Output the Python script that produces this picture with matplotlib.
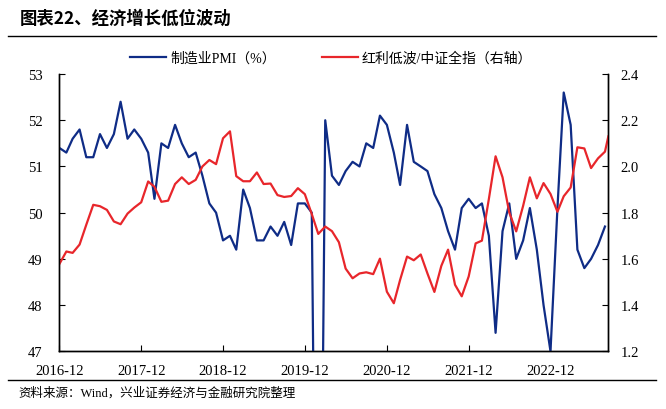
import numpy as np
import pandas as pd
import matplotlib
matplotlib.use("Agg")
import matplotlib.pyplot as plt
import matplotlib.dates as mdates
from matplotlib.lines import Line2D

# 制造业PMI, 2016-12 .. 2023-08 (monthly)
pmi_dates = pd.date_range("2016-12-31", "2023-08-31", freq="ME")
pmi = [51.4,
       51.3, 51.6, 51.8, 51.2, 51.2, 51.7, 51.4, 51.7, 52.4, 51.6, 51.8, 51.6,
       51.3, 50.3, 51.5, 51.4, 51.9, 51.5, 51.2, 51.3, 50.8, 50.2, 50.0, 49.4,
       49.5, 49.2, 50.5, 50.1, 49.4, 49.4, 49.7, 49.5, 49.8, 49.3, 50.2, 50.2,
       50.0, 35.7, 52.0, 50.8, 50.6, 50.9, 51.1, 51.0, 51.5, 51.4, 52.1, 51.9,
       51.3, 50.6, 51.9, 51.1, 51.0, 50.9, 50.4, 50.1, 49.6, 49.2, 50.1, 50.3,
       50.1, 50.2, 49.5, 47.4, 49.6, 50.2, 49.0, 49.4, 50.1, 49.2, 48.0, 47.0,
       50.1, 52.6, 51.9, 49.2, 48.8, 49.0, 49.3, 49.7]

# 红利低波/中证全指, monthly plus the latest (mid-month) reading
ratio_dates = list(pmi_dates) + [pd.Timestamp("2023-09-15")]
ratio = [1.578, 1.632, 1.626, 1.662, 1.748, 1.834, 1.828, 1.812, 1.762, 1.750,
         1.796, 1.822, 1.845, 1.935, 1.912, 1.847, 1.852, 1.924, 1.953, 1.924,
         1.942, 2.000, 2.028, 2.010, 2.122, 2.152, 1.958, 1.936, 1.936, 1.974,
         1.924, 1.926, 1.876, 1.868, 1.872, 1.906, 1.880, 1.794, 1.708, 1.740,
         1.720, 1.672, 1.558, 1.516, 1.537, 1.542, 1.534, 1.601, 1.458, 1.408,
         1.509, 1.610, 1.594, 1.619, 1.537, 1.457, 1.570, 1.640, 1.488, 1.438,
         1.524, 1.667, 1.679, 1.859, 2.044, 1.953, 1.801, 1.719, 1.830, 1.953,
         1.862, 1.928, 1.881, 1.804, 1.871, 1.909, 2.083, 2.078, 1.993, 2.035,
         2.064, 2.130]

tick_years = [2016, 2017, 2018, 2019, 2020, 2021, 2022]

title = "图表22、经济增长低位波动"
pmi_label = "制造业PMI（%）"
ratio_label = "红利低波/中证全指（右轴）"
source = "资料来源：Wind，兴业证券经济与金融研究院整理"

serif_cjk = ["Liberation Serif", "Noto Sans CJK SC"]
blue = "#0F2C86"
red = "#E8262B"

fig = plt.figure(figsize=(6.66, 4.10), dpi=100, facecolor="white")
ax = fig.add_axes([0.0892, 0.1407, 0.8242, 0.6763])
ax2 = ax.twinx()

ax.plot(pmi_dates, pmi, color=blue, lw=1.6, zorder=3)
ax2.plot(ratio_dates, ratio, color=red, lw=1.6, zorder=2)

ax.set_xlim(pmi_dates[0], ratio_dates[-1])
ax.set_ylim(47, 53)
ax.set_yticks(range(47, 54))
ax2.set_ylim(1.2, 2.4)
ax2.set_yticks(np.arange(1.2, 2.41, 0.2))
ax2.yaxis.set_major_formatter(matplotlib.ticker.FormatStrFormatter("%.1f"))

ax.set_xticks([pd.Timestamp(f"{y}-12-31") for y in tick_years])
ax.xaxis.set_major_formatter(mdates.DateFormatter("%Y-%m"))

for a in (ax, ax2):
    a.spines["top"].set_visible(False)
    for s in a.spines.values():
        s.set_linewidth(1.0)
ax.tick_params(axis="both", direction="in", length=4, width=0.8, labelsize=10.5)
ax.tick_params(axis="y", pad=12)
ax.tick_params(axis="x", pad=9)
ax2.tick_params(axis="y", direction="in", length=4, width=0.8, labelsize=10.5, pad=9)
for lbl in ax.get_xticklabels() + ax.get_yticklabels() + ax2.get_yticklabels():
    lbl.set_family("Liberation Serif")

# legend
handles = [Line2D([], [], color=blue, lw=1.6), Line2D([], [], color=red, lw=1.6)]
fig.legend(handles, [pmi_label, ratio_label], loc="center",
           bbox_to_anchor=(0.497, 0.856), ncol=2, frameon=False,
           handlelength=2.6, handletextpad=0.3, columnspacing=3.3,
           prop={"family": serif_cjk, "size": 10})

# title and rules
fig.text(0.030, 0.955, title, ha="left", va="center", fontsize=12.5,
         fontweight="bold", family=["Noto Sans CJK SC"])
fig.add_artist(Line2D([0.012, 0.985], [0.910, 0.910], color="black", lw=1.0,
                      transform=fig.transFigure))
fig.add_artist(Line2D([0.012, 0.985], [0.071, 0.071], color="black", lw=1.0,
                      transform=fig.transFigure))
fig.text(0.027, 0.040, source, ha="left", va="center", fontsize=9,
         family=serif_cjk)

plt.savefig("out.png", dpi=100)
plt.close()
